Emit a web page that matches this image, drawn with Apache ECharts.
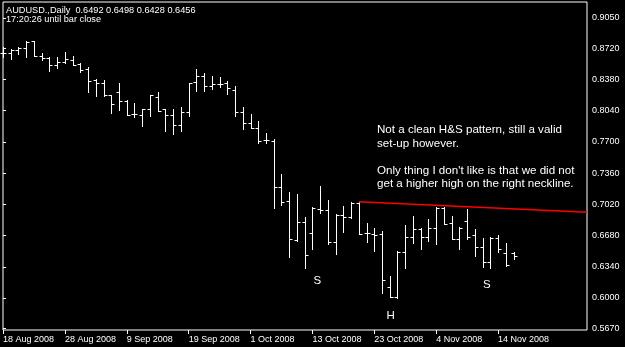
<!DOCTYPE html>
<html>
<head>
<meta charset="UTF-8">
<title>AUDUSD Daily</title>
<script src="https://cdn.jsdelivr.net/npm/echarts@6/dist/echarts.min.js"></script>
<style>
  html, body { margin: 0; padding: 0; background: #000; }
  #chart { width: 625px; height: 347px; }
</style>
</head>
<body>
<div id="chart"></div>
<script>
// trading days, one per bar
var dates = [
  '18 Aug 2008', '19 Aug 2008', '20 Aug 2008', '21 Aug 2008', '22 Aug 2008',
  '25 Aug 2008', '26 Aug 2008', '27 Aug 2008', '28 Aug 2008', '29 Aug 2008',
  '1 Sep 2008', '2 Sep 2008', '3 Sep 2008', '4 Sep 2008', '5 Sep 2008',
  '8 Sep 2008', '9 Sep 2008', '10 Sep 2008', '11 Sep 2008', '12 Sep 2008',
  '15 Sep 2008', '16 Sep 2008', '17 Sep 2008', '18 Sep 2008', '19 Sep 2008',
  '22 Sep 2008', '23 Sep 2008', '24 Sep 2008', '25 Sep 2008', '26 Sep 2008',
  '29 Sep 2008', '30 Sep 2008', '1 Oct 2008', '2 Oct 2008', '3 Oct 2008',
  '6 Oct 2008', '7 Oct 2008', '8 Oct 2008', '9 Oct 2008', '10 Oct 2008',
  '13 Oct 2008', '14 Oct 2008', '15 Oct 2008', '16 Oct 2008', '17 Oct 2008',
  '20 Oct 2008', '21 Oct 2008', '22 Oct 2008', '23 Oct 2008', '24 Oct 2008',
  '27 Oct 2008', '28 Oct 2008', '29 Oct 2008', '30 Oct 2008', '31 Oct 2008',
  '3 Nov 2008', '4 Nov 2008', '5 Nov 2008', '6 Nov 2008', '7 Nov 2008',
  '10 Nov 2008', '11 Nov 2008', '12 Nov 2008', '13 Nov 2008', '14 Nov 2008',
  '17 Nov 2008', '18 Nov 2008'
];

var opens = [
  0.8663, 0.8665, 0.8701, 0.8720, 0.8799, 0.8639, 0.8618, 0.8538, 0.8567, 0.8597,
  0.8549, 0.8489, 0.8375, 0.8337, 0.8211, 0.8249, 0.8151, 0.8004, 0.7993, 0.8056,
  0.8186, 0.8056, 0.7993, 0.7884, 0.8029, 0.8353, 0.8422, 0.8309, 0.8331, 0.8339,
  0.8266, 0.8023, 0.7910, 0.7849, 0.7721, 0.7713, 0.7212, 0.7051, 0.6626, 0.6831,
  0.6713, 0.6973, 0.6959, 0.6612, 0.6904, 0.6886, 0.7035, 0.6708, 0.6700, 0.6697,
  0.6123, 0.6010, 0.6504, 0.6668, 0.6752, 0.6661, 0.6759, 0.6984, 0.6814, 0.6643,
  0.6842, 0.6686, 0.6559, 0.6395, 0.6657, 0.6487, 0.6492
];
var highs = [
  0.8737, 0.8712, 0.8730, 0.8794, 0.8801, 0.8665, 0.8620, 0.8620, 0.8676, 0.8636,
  0.8557, 0.8516, 0.8388, 0.8375, 0.8213, 0.8339, 0.8157, 0.8121, 0.8058, 0.8213,
  0.8241, 0.8058, 0.8056, 0.8077, 0.8339, 0.8498, 0.8454, 0.8418, 0.8404, 0.8364,
  0.8309, 0.8077, 0.8004, 0.7928, 0.7801, 0.7729, 0.7351, 0.7155, 0.7133, 0.6879,
  0.6988, 0.7225, 0.7067, 0.6912, 0.7002, 0.7046, 0.7049, 0.6820, 0.6757, 0.6733,
  0.6243, 0.6515, 0.6795, 0.6893, 0.6759, 0.6861, 0.6995, 0.6995, 0.6896, 0.6777,
  0.6969, 0.6752, 0.6650, 0.6668, 0.6686, 0.6596, 0.6498
];
var lows = [
  0.8628, 0.8600, 0.8655, 0.8628, 0.8637, 0.8592, 0.8476, 0.8502, 0.8557, 0.8533,
  0.8459, 0.8247, 0.8204, 0.8200, 0.8012, 0.8048, 0.7988, 0.7968, 0.7877, 0.7986,
  0.8040, 0.7822, 0.7786, 0.7816, 0.7986, 0.8258, 0.8258, 0.8273, 0.8295, 0.8219,
  0.7986, 0.7841, 0.7849, 0.7685, 0.7692, 0.6977, 0.7013, 0.6441, 0.6621, 0.6321,
  0.6530, 0.6923, 0.6587, 0.6479, 0.6722, 0.6875, 0.6694, 0.6613, 0.6512, 0.6051,
  0.6006, 0.5997, 0.6323, 0.6602, 0.6534, 0.6624, 0.6585, 0.6803, 0.6639, 0.6534,
  0.6639, 0.6461, 0.6334, 0.6323, 0.6498, 0.6352, 0.6428
];
var closes = [
  0.8667, 0.8701, 0.8720, 0.8792, 0.8639, 0.8611, 0.8538, 0.8570, 0.8600, 0.8543,
  0.8484, 0.8364, 0.8339, 0.8211, 0.8108, 0.8146, 0.7997, 0.7999, 0.8056, 0.8211,
  0.8042, 0.7993, 0.7884, 0.8029, 0.8337, 0.8422, 0.8309, 0.8331, 0.8329, 0.8284,
  0.8029, 0.7910, 0.7851, 0.7707, 0.7718, 0.7212, 0.7046, 0.6637, 0.6831, 0.6465,
  0.6977, 0.6962, 0.6613, 0.6904, 0.6886, 0.7035, 0.6697, 0.6711, 0.6690, 0.6196,
  0.6008, 0.6504, 0.6668, 0.6752, 0.6661, 0.6759, 0.6984, 0.6803, 0.6643, 0.6759,
  0.6668, 0.6559, 0.6395, 0.6657, 0.6534, 0.6359, 0.6456
];

// axis ticks
var dateTicks = [0, 8, 16, 24, 32, 40, 48, 56, 64];
var priceTicks = [0.5670, 0.6000, 0.6340, 0.6680, 0.7020, 0.7360, 0.7700, 0.8040, 0.8380, 0.8720, 0.9050];

// red trend line (bar index, price)
var necklineX = [46, 75.5];
var necklineY = [0.7049, 0.6933];

var bars = dates.map(function (d, i) {
  return [i, opens[i], highs[i], lows[i], closes[i]];
});
var neckline = necklineX.map(function (x, i) { return [x, necklineY[i]]; });
var last = bars.length - 1;

function px(v) { return Math.round(v) + 0.5; }

function renderBar(params, api) {
  var i = api.value(0);
  var o = api.coord([i, api.value(1)]);
  var h = api.coord([i, api.value(2)]);
  var l = api.coord([i, api.value(3)]);
  var c = api.coord([i, api.value(4)]);
  var x = px(o[0]);
  return {
    type: 'group',
    children: [
      { type: 'line', shape: { x1: x, y1: px(h[1]) - 0.5, x2: x, y2: px(l[1]) + 0.5 }, style: { stroke: '#fff', lineWidth: 1 } },
      { type: 'line', shape: { x1: x - 3, y1: px(o[1]), x2: x, y2: px(o[1]) }, style: { stroke: '#fff', lineWidth: 1 } },
      { type: 'line', shape: { x1: x, y1: px(c[1]), x2: x + 3, y2: px(c[1]) }, style: { stroke: '#fff', lineWidth: 1 } }
    ]
  };
}

function txt(s, x, y, size) {
  return {
    type: 'text', x: x, y: y, silent: true,
    style: {
      text: s, fill: '#fff', font: size + 'px "Liberation Sans", Arial, sans-serif',
      align: 'left', verticalAlign: 'middle', textAlign: 'left', textVerticalAlign: 'middle'
    }
  };
}

var header = 'AUDUSD.,Daily  ' + [opens[last], highs[last], lows[last], closes[last]].map(function (v) {
  return v.toFixed(4);
}).join(' ');

var chart = echarts.init(document.getElementById('chart'));
chart.setOption({
  backgroundColor: '#000',
  animation: false,
  grid: { left: 2, right: 38, top: 2, bottom: 17, show: true, borderColor: '#fff', borderWidth: 1 },
  xAxis: {
    type: 'value', min: 0, max: 75.5,
    axisLine: { show: false },
    splitLine: { show: false },
    axisTick: { show: true, length: 4, lineStyle: { color: '#fff' }, customValues: dateTicks },
    axisLabel: {
      color: '#fff', fontSize: 9, fontFamily: 'Liberation Sans', align: 'left', margin: 5,
      customValues: dateTicks,
      formatter: function (v) { return dates[v] || ''; }
    }
  },
  yAxis: {
    type: 'value', position: 'right', min: 0.5651, max: 0.9224, scale: true,
    axisLine: { show: false },
    splitLine: { show: false },
    axisTick: { show: true, length: 3, lineStyle: { color: '#fff' }, customValues: priceTicks },
    axisLabel: {
      color: '#fff', fontSize: 9, fontFamily: 'Liberation Sans', margin: 5,
      customValues: priceTicks,
      formatter: function (v) { return v.toFixed(4); }
    }
  },
  series: [
    {
      type: 'custom',
      renderItem: renderBar,
      encode: { x: 0, y: [1, 2, 3, 4] },
      data: bars
    },
    {
      type: 'line',
      data: neckline,
      symbol: 'none',
      lineStyle: { color: '#ff0000', width: 1.5 },
      markLine: {
        silent: true,
        symbol: 'none',
        lineStyle: { opacity: 0 },
        data: [{ yAxis: closes[last] }],
        label: {
          position: 'end', distance: 3,
          formatter: closes[last].toFixed(4),
          backgroundColor: '#fff', color: '#000',
          fontSize: 9, fontFamily: 'Liberation Sans',
          padding: [1, 2, 0, 2]
        }
      }
    }
  ],
  graphic: [
    txt(header, 6, 10, 9.2),
    txt('17:20:26 until bar close', 6, 19, 9.2),
    txt('Not a clean H&S pattern, still a valid', 377, 130, 11.6),
    txt('set-up however.', 377, 143.5, 11.6),
    txt('Only thing I don\'t like is that we did not', 377, 170.5, 11.6),
    txt('get a higher high on the right neckline.', 377, 184, 11.6),
    txt('S', 313.5, 281, 11.5),
    txt('H', 386.5, 316, 11.5),
    txt('S', 483, 285, 11.5)
  ]
});
</script>
</body>
</html>
